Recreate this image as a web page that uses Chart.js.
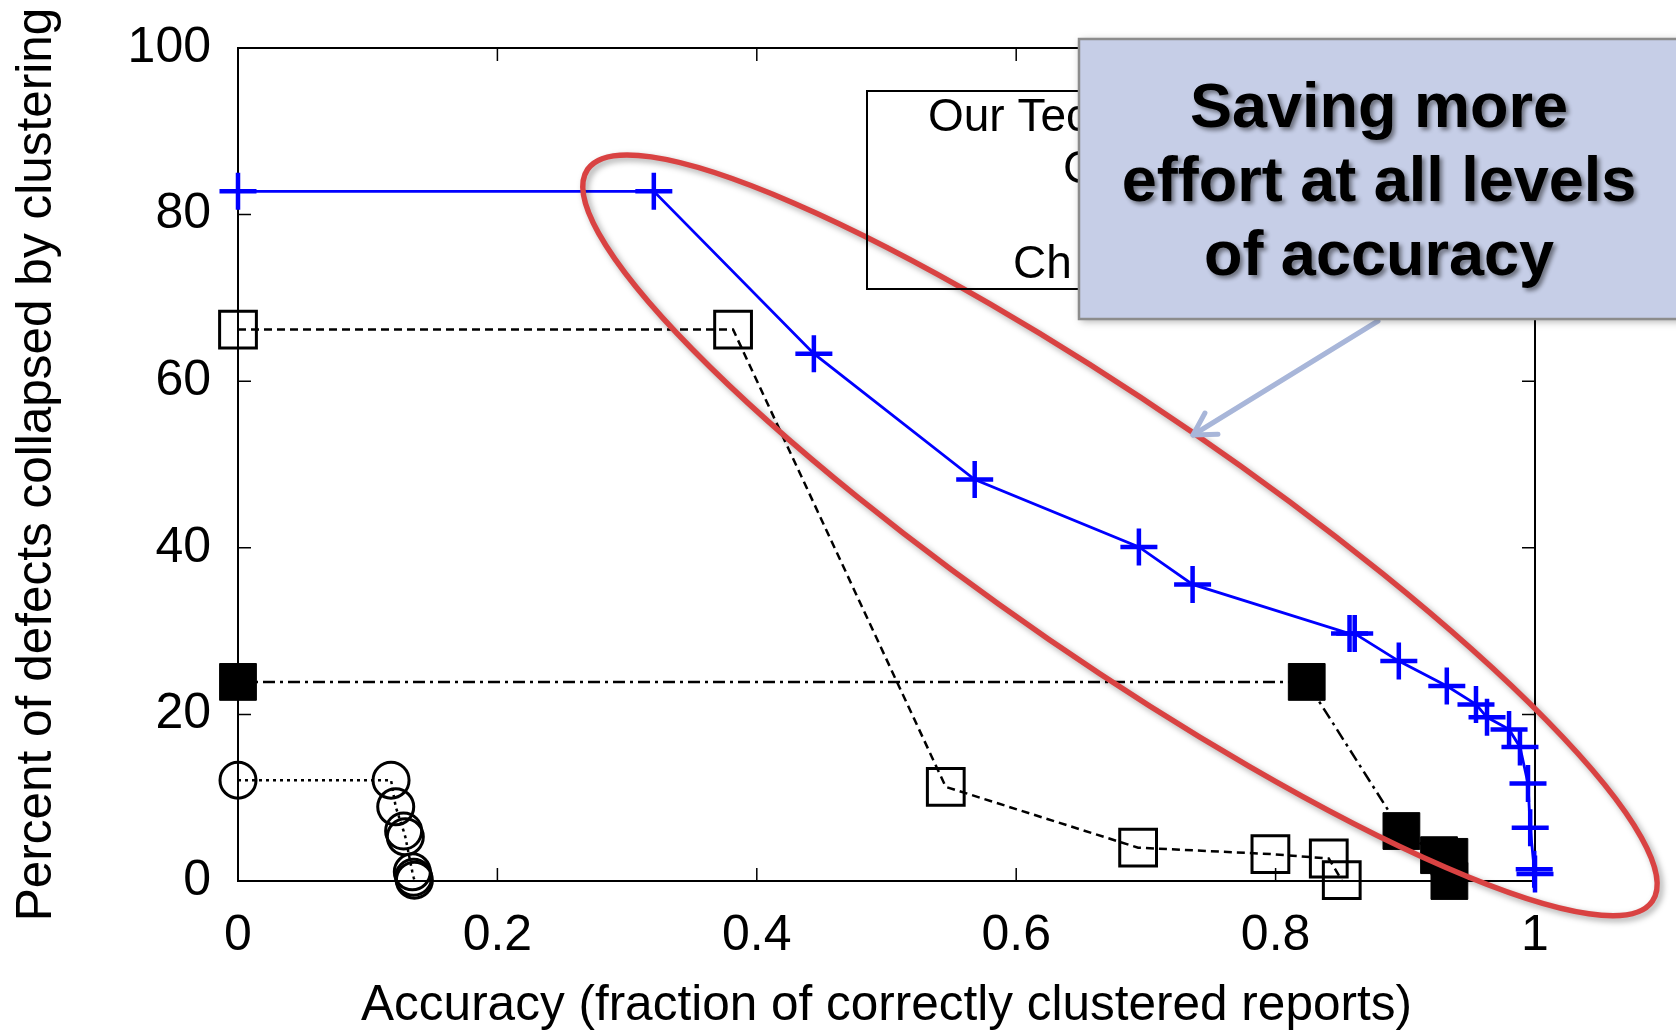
<!DOCTYPE html>
<html><head><meta charset="utf-8">
<script src="https://cdn.jsdelivr.net/npm/chart.js@4.4.0/dist/chart.umd.min.js"></script>
<style>html,body{margin:0;padding:0;background:#fff;overflow:hidden}canvas{display:block}</style>
</head><body>
<canvas id="c" width="1676" height="1031"></canvas>
<script>
// ---- data ----
const xTickValues = [0, 0.2, 0.4, 0.6, 0.8, 1];
const xTickLabels = ['0', '0.2', '0.4', '0.6', '0.8', '1'];
const yTickValues = [0, 20, 40, 60, 80, 100];
const yTickLabels = ['0', '20', '40', '60', '80', '100'];

const oursX = [0, 0.3206, 0.444, 0.568, 0.6946, 0.736, 0.857, 0.861, 0.895, 0.932, 0.9545, 0.963, 0.980, 0.9884, 0.9946, 0.9963, 0.9994, 1.0];
const oursY = [82.8, 82.8, 63.3, 48.2, 40.1, 35.6, 29.7, 29.7, 26.4, 23.4, 21.2, 19.65, 18.2, 16.1, 11.7, 6.4, 1.4, 0.85];

const openSqX = [0, 0.3817, 0.5457, 0.694, 0.796, 0.841, 0.851];
const openSqY = [66.2, 66.2, 11.3, 4.0, 3.24, 2.7, 0.1];

const filledSqX = [0, 0.824, 0.897, 0.926, 0.934, 0.934];
const filledSqY = [23.9, 23.9, 6.0, 3.1, 2.9, 0.0];

const circleX = [0, 0.118, 0.1216, 0.1277, 0.129, 0.1344, 0.1354, 0.136];
const circleY = [12.1, 12.1, 8.9, 6.0, 5.3, 1.1, 0.45, 0.1];

const seriesNames = ['Our Technique', 'Series 2', 'Series 3', 'Series 4'];
const legendLabels = ['Our Technique', 'C', '', 'Ch'];
const calloutLines = ['Saving more', 'effort at all levels', 'of accuracy'];
const xTitle = 'Accuracy (fraction of correctly clustered reports)';
const yTitle = 'Percent of defects collapsed by clustering';

const pts = (xs, ys) => xs.map((v, i) => ({x: v, y: ys[i]}));
const FONT = "'Liberation Sans', Arial, Helvetica, sans-serif";
Chart.defaults.font.family = FONT;
Chart.defaults.color = '#000';

const framePlugin = {
  id: 'frame',
  beforeDatasetsDraw(chart) {
    const {ctx, chartArea: a, scales: {x, y}} = chart;
    ctx.save();
    ctx.strokeStyle = '#000';
    ctx.lineWidth = 2;
    ctx.strokeRect(a.left, a.top, a.right - a.left, a.bottom - a.top);
    const tl = 13;
    ctx.beginPath();
    xTickValues.forEach(v => {
      const px = x.getPixelForValue(v);
      ctx.moveTo(px, a.bottom); ctx.lineTo(px, a.bottom - tl);
      ctx.moveTo(px, a.top); ctx.lineTo(px, a.top + tl);
    });
    yTickValues.forEach(v => {
      const py = y.getPixelForValue(v);
      ctx.moveTo(a.left, py); ctx.lineTo(a.left + tl, py);
      ctx.moveTo(a.right, py); ctx.lineTo(a.right - tl, py);
    });
    ctx.lineWidth = 1.5;
    ctx.stroke();
    ctx.restore();
  },
  afterDatasetsDraw(chart) {
    const {ctx, scales: {x, y}} = chart;
    // red ellipse highlight
    const cx = x.getPixelForValue(0.680), cy = y.getPixelForValue(41.5);
    ctx.save();
    ctx.shadowColor = 'rgba(0,0,0,0.35)';
    ctx.shadowBlur = 6; ctx.shadowOffsetX = 3; ctx.shadowOffsetY = 3;
    ctx.strokeStyle = '#d94242';
    ctx.lineWidth = 5.5;
    ctx.beginPath();
    ctx.ellipse(cx, cy, 646, 126, 34.5 * Math.PI / 180, 0, 2 * Math.PI);
    ctx.stroke();
    ctx.restore();
  },
  afterDraw(chart) {
    const {ctx} = chart;
    // legend box (gnuplot style), mostly hidden by the callout
    ctx.save();
    ctx.strokeStyle = '#000'; ctx.lineWidth = 2;
    ctx.strokeRect(867, 91, 420, 198);
    ctx.fillStyle = '#000';
    ctx.font = '46px ' + FONT;
    ctx.textBaseline = 'alphabetic';
    ctx.textAlign = 'left';
    const lx = [928, 1063, 1090, 1013];
    const ly = [131, 183, 230, 278];
    legendLabels.forEach((t, i) => { if (t) ctx.fillText(t, lx[i], ly[i]); });
    ctx.restore();

    // arrow
    ctx.save();
    ctx.strokeStyle = '#a8b6d9'; ctx.lineWidth = 5; ctx.lineCap = 'round';
    const sx = 1378, sy = 321, tx = 1193, ty = 435;
    ctx.beginPath(); ctx.moveTo(sx, sy); ctx.lineTo(tx, ty); ctx.stroke();
    const ang = Math.atan2(sy - ty, sx - tx);
    ctx.beginPath();
    [ang + 0.52, ang - 0.52].forEach(a2 => {
      ctx.moveTo(tx, ty); ctx.lineTo(tx + 25 * Math.cos(a2), ty + 25 * Math.sin(a2));
    });
    ctx.stroke();
    ctx.restore();

    // callout box
    ctx.save();
    ctx.shadowColor = 'rgba(0,0,0,0.35)';
    ctx.shadowBlur = 8; ctx.shadowOffsetX = 2; ctx.shadowOffsetY = 2;
    ctx.fillStyle = '#c6cee7';
    ctx.fillRect(1079, 39, 620, 280);
    ctx.restore();
    ctx.save();
    ctx.strokeStyle = '#8c8c8c'; ctx.lineWidth = 2.5;
    ctx.strokeRect(1079, 39, 620, 280);
    ctx.fillStyle = '#000';
    ctx.font = 'bold 63px ' + FONT;
    ctx.textAlign = 'center';
    ctx.textBaseline = 'alphabetic';
    ctx.shadowColor = 'rgba(0,0,0,0.45)';
    ctx.shadowBlur = 4; ctx.shadowOffsetX = 3; ctx.shadowOffsetY = 3;
    calloutLines.forEach((t, i) => ctx.fillText(t, 1379, 127 + i * 74));
    ctx.restore();
  }
};

new Chart(document.getElementById('c'), {
  type: 'scatter',
  data: {
    datasets: [
      {
        label: seriesNames[0], data: pts(oursX, oursY), showLine: true,
        borderColor: '#0000ff', borderWidth: 2.8, tension: 0,
        pointStyle: 'cross', pointRadius: 18.5, pointBorderWidth: 4.5,
        pointBorderColor: '#0000ff', pointBackgroundColor: '#0000ff', clip: false
      },
      {
        label: seriesNames[1], data: pts(openSqX, openSqY), showLine: true,
        borderColor: '#000', borderWidth: 2.5, borderDash: [8, 5], tension: 0,
        pointStyle: 'rect', pointRadius: 26, pointBorderWidth: 3,
        pointBorderColor: '#000', pointBackgroundColor: 'rgba(0,0,0,0)', clip: false
      },
      {
        label: seriesNames[2], data: pts(filledSqX, filledSqY), showLine: true,
        borderColor: '#000', borderWidth: 2.5, borderDash: [12, 5, 3, 5], tension: 0,
        pointStyle: 'rect', pointRadius: 26, pointBorderWidth: 1,
        pointBorderColor: '#000', pointBackgroundColor: '#000', clip: false
      },
      {
        label: seriesNames[3], data: pts(circleX, circleY), showLine: true,
        borderColor: '#000', borderWidth: 2.5, borderDash: [3, 4], tension: 0,
        pointStyle: 'circle', pointRadius: 18, pointBorderWidth: 3,
        pointBorderColor: '#000', pointBackgroundColor: 'rgba(0,0,0,0)', clip: false
      }
    ]
  },
  options: {
    responsive: false, animation: false, devicePixelRatio: 1, events: [],
    layout: {autoPadding: false, padding: {left: 0, right: 141, top: 48, bottom: 0}},
    plugins: {legend: {display: false}, tooltip: {enabled: false}},
    scales: {
      x: {
        type: 'linear', min: 0, max: 1,
        afterBuildTicks: s => { s.ticks = xTickValues.map(v => ({value: v})); },
        afterFit: s => { s.height = 150; },
        grid: {display: false, drawTicks: false},
        border: {display: false},
        ticks: {autoSkip: false, maxRotation: 0, padding: 25, font: {size: 50},
                callback: (v, i) => xTickLabels[i]},
        title: {display: true, text: xTitle, font: {size: 49.5, lineHeight: 1.0}, padding: {top: 0, bottom: 0}}
      },
      y: {
        type: 'linear', min: 0, max: 100,
        afterBuildTicks: s => { s.ticks = yTickValues.map(v => ({value: v})); },
        afterFit: s => { s.width = 238; },
        grid: {display: true, drawOnChartArea: false, drawTicks: true, tickLength: 27, tickColor: 'rgba(0,0,0,0)'},
        border: {display: false},
        ticks: {autoSkip: false, padding: 0, font: {size: 50},
                callback: (v, i) => yTickLabels[i]},
        title: {display: true, text: yTitle, font: {size: 49.5, lineHeight: 1.0}, padding: {top: 12.5, bottom: 0}}
      }
    }
  },
  plugins: [framePlugin]
});
</script>
</body></html>
